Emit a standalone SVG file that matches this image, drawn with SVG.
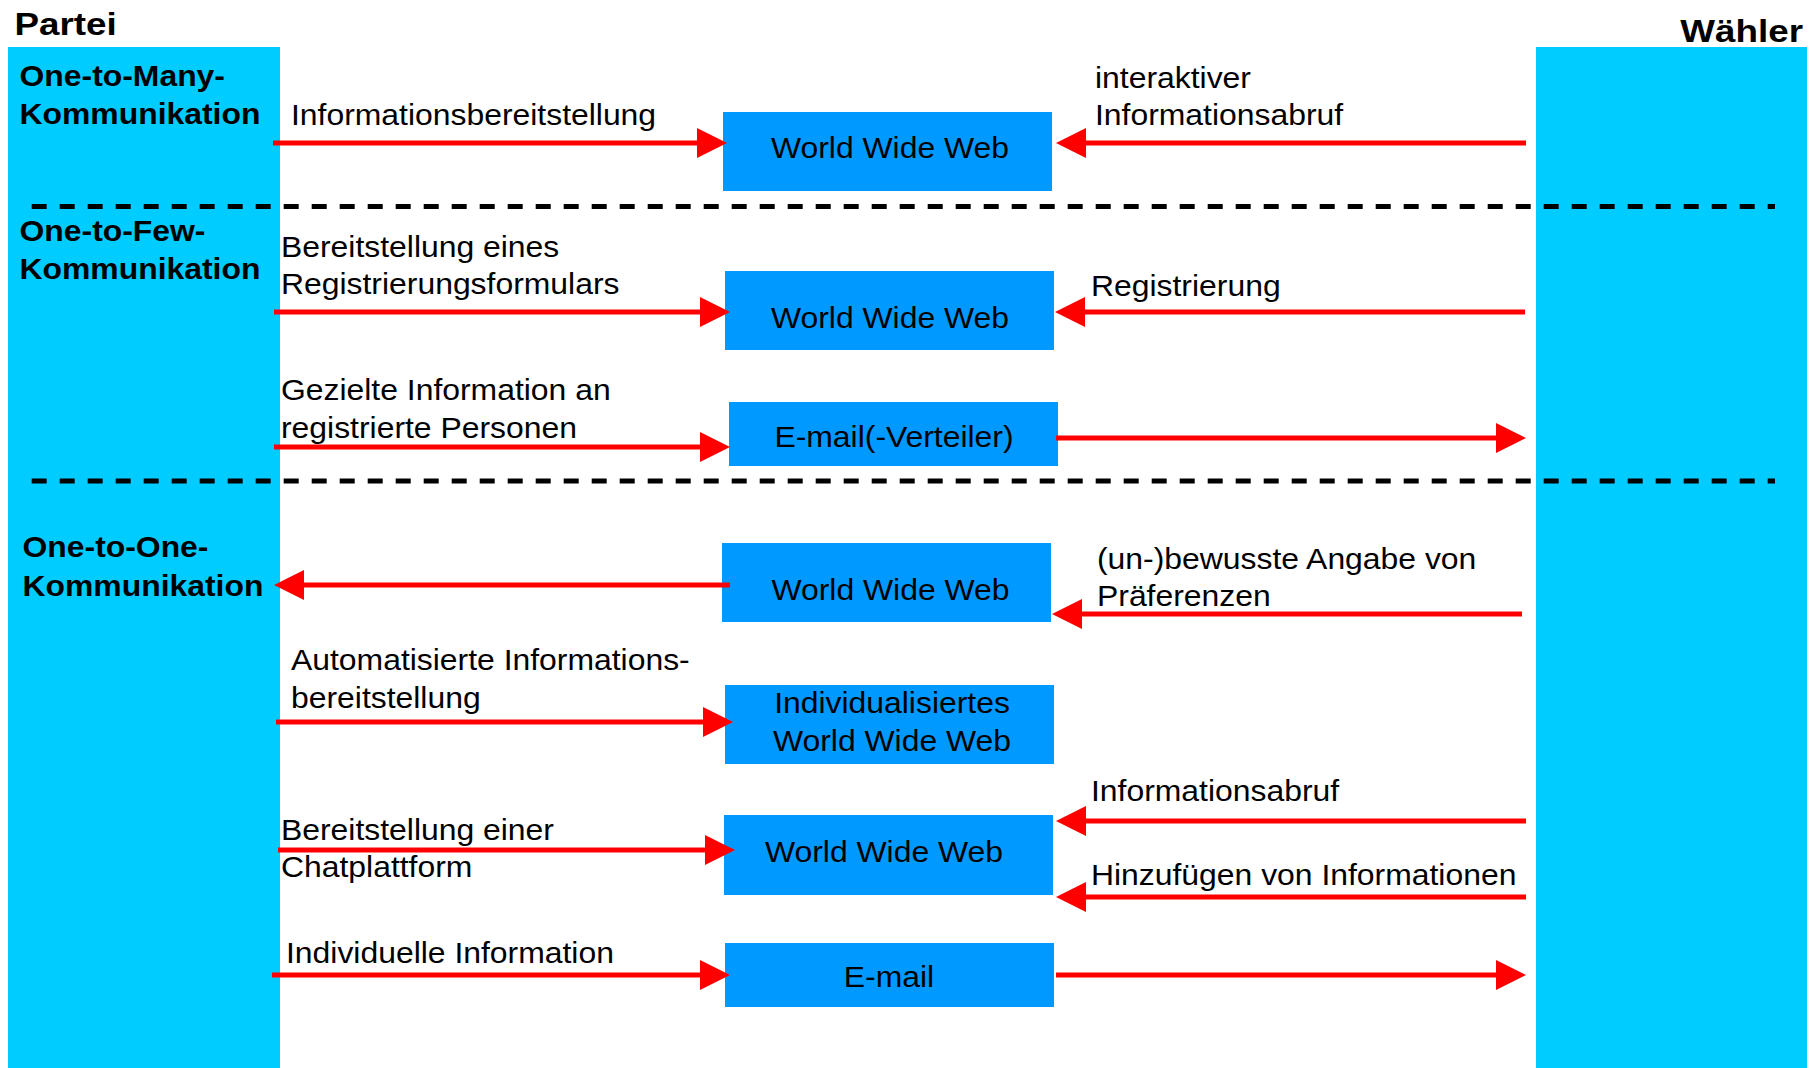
<svg xmlns="http://www.w3.org/2000/svg" width="1816" height="1068" viewBox="0 0 1816 1068">
<style>
.t{font-family:"Liberation Sans",Arial,sans-serif;font-size:29px;fill:#000}
.b{font-weight:bold}
.h{font-family:"Liberation Sans",Arial,sans-serif;font-size:32px;font-weight:bold;fill:#000}
.col{fill:#00CCFF}
.box{fill:#0099FF}
.arr{stroke:#FF0000;stroke-width:5;fill:none;marker-end:url(#ah)}
.dash{stroke:#000;stroke-width:5;stroke-dasharray:15 13;fill:none}
</style>
<defs>
<marker id="ah" viewBox="0 0 30 30" refX="0" refY="15" markerWidth="30" markerHeight="30" markerUnits="userSpaceOnUse" orient="auto">
<path d="M0,0 L30,15 L0,30 Z" fill="#FF0000"/>
</marker>
</defs>
<rect width="1816" height="1068" fill="#fff"/>

<g id="partei">
<rect class="col" x="8" y="47" width="272" height="1021"/>
<text class="h" transform="translate(14.5,35) scale(1.15,1)">Partei</text>
</g>
<g id="waehler">
<rect class="col" x="1536" y="47" width="271" height="1021"/>
<text class="h" text-anchor="end" transform="translate(1803,42) scale(1.15,1)">Wähler</text>
</g>

<g id="separators">
<line class="dash" x1="31.7" y1="206.5" x2="1775" y2="206.5"/>
<line class="dash" x1="31.7" y1="481" x2="1775" y2="481"/>
</g>

<g id="label-one-to-many">
<text class="t b" transform="translate(19.5,86) scale(1.1,1)"><tspan x="0" y="0">One-to-Many-</tspan><tspan x="0" y="38">Kommunikation</tspan></text>
</g>
<g id="label-one-to-few">
<text class="t b" transform="translate(19.5,241) scale(1.1,1)"><tspan x="0" y="0">One-to-Few-</tspan><tspan x="0" y="38">Kommunikation</tspan></text>
</g>
<g id="label-one-to-one">
<text class="t b" transform="translate(22.5,557) scale(1.1,1)"><tspan x="0" y="0">One-to-One-</tspan><tspan x="0" y="39">Kommunikation</tspan></text>
</g>

<g id="www1">
<rect class="box" x="723" y="112" width="329" height="79"/>
<text class="t" text-anchor="middle" transform="translate(890,158) scale(1.1,1)">World Wide Web</text>
</g>
<g id="www2">
<rect class="box" x="725" y="271" width="329" height="79"/>
<text class="t" text-anchor="middle" transform="translate(890,328) scale(1.1,1)">World Wide Web</text>
</g>
<g id="email-verteiler">
<rect class="box" x="729" y="402" width="329" height="64"/>
<text class="t" text-anchor="middle" transform="translate(894,447) scale(1.1,1)">E-mail(-Verteiler)</text>
</g>
<g id="www3">
<rect class="box" x="722" y="543" width="329" height="79"/>
<text class="t" text-anchor="middle" transform="translate(890.5,600) scale(1.1,1)">World Wide Web</text>
</g>
<g id="www-individual">
<rect class="box" x="725" y="685" width="329" height="79"/>
<text class="t" text-anchor="middle" transform="translate(892,713) scale(1.1,1)"><tspan x="0" y="0">Individualisiertes</tspan><tspan x="0" y="38">World Wide Web</tspan></text>
</g>
<g id="www4">
<rect class="box" x="724" y="815" width="329" height="80"/>
<text class="t" text-anchor="middle" transform="translate(884,862) scale(1.1,1)">World Wide Web</text>
</g>
<g id="email">
<rect class="box" x="725" y="943" width="329" height="64"/>
<text class="t" text-anchor="middle" transform="translate(889,987) scale(1.1,1)">E-mail</text>
</g>

<g id="connectors">
<line class="arr" x1="273" y1="143" x2="697" y2="143"/>
<line class="arr" x1="1526" y1="143" x2="1086" y2="143"/>
<line class="arr" x1="274" y1="312" x2="700" y2="312"/>
<line class="arr" x1="1525" y1="312" x2="1085" y2="312"/>
<line class="arr" x1="274" y1="447" x2="700" y2="447"/>
<line class="arr" x1="1056" y1="438" x2="1496" y2="438"/>
<line class="arr" x1="730" y1="585" x2="304" y2="585"/>
<line class="arr" x1="1522" y1="614" x2="1082" y2="614"/>
<line class="arr" x1="276" y1="722" x2="703" y2="722"/>
<line class="arr" x1="1526" y1="821" x2="1086" y2="821"/>
<line class="arr" x1="278" y1="850" x2="705" y2="850"/>
<line class="arr" x1="1526" y1="897" x2="1086" y2="897"/>
<line class="arr" x1="272" y1="975" x2="700" y2="975"/>
<line class="arr" x1="1056" y1="975" x2="1496" y2="975"/>

<text class="t" transform="translate(291,125) scale(1.1,1)">Informationsbereitstellung</text>
<text class="t" transform="translate(1095,88) scale(1.1,1)"><tspan x="0" y="0">interaktiver</tspan><tspan x="0" y="37">Informationsabruf</tspan></text>
<text class="t" transform="translate(281,257) scale(1.1,1)"><tspan x="0" y="0">Bereitstellung eines</tspan><tspan x="0" y="37">Registrierungsformulars</tspan></text>
<text class="t" transform="translate(1091,296) scale(1.1,1)">Registrierung</text>
<text class="t" transform="translate(281,400) scale(1.1,1)"><tspan x="0" y="0">Gezielte Information an</tspan><tspan x="0" y="38">registrierte Personen</tspan></text>
<text class="t" transform="translate(1097,569) scale(1.1,1)"><tspan x="0" y="0">(un-)bewusste Angabe von</tspan><tspan x="0" y="37">Präferenzen</tspan></text>
<text class="t" transform="translate(291,670) scale(1.1,1)"><tspan x="0" y="0">Automatisierte Informations-</tspan><tspan x="0" y="38">bereitstellung</tspan></text>
<text class="t" transform="translate(1091,801) scale(1.1,1)">Informationsabruf</text>
<text class="t" transform="translate(281,840) scale(1.1,1)"><tspan x="0" y="0">Bereitstellung einer</tspan><tspan x="0" y="37">Chatplattform</tspan></text>
<text class="t" transform="translate(1091,885) scale(1.1,1)">Hinzufügen von Informationen</text>
<text class="t" transform="translate(286,963) scale(1.1,1)">Individuelle Information</text>
</g>
</svg>
